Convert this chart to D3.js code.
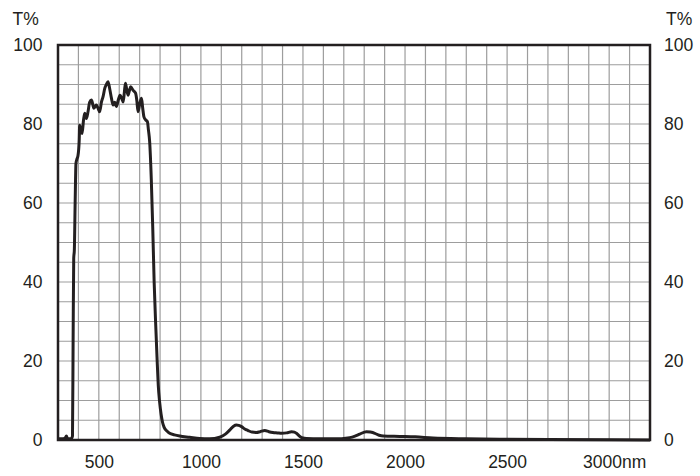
<!DOCTYPE html>
<html>
<head>
<meta charset="utf-8">
<script src="https://cdn.jsdelivr.net/npm/d3@7"></script>
<style>
  body { margin: 0; background: #fff; }
  text { font-family: "Liberation Sans", Arial, sans-serif; }
</style>
</head>
<body>
<svg id="main" width="700" height="476"></svg>
<script>
// wavelength (nm) and transmission (%)
const wavelength = [300,320,335,341,347,365,371,374,377,380,384,388,392,398,404,406,412,418,425,431,439,447,455,464,470,476,488,496,504,513,521,529,537,545,553,562,570,578,586,595,604,612,619,625,630,636,643,650,656,668,680,686,692,700,709,715,721,730,738,743,749,757,764,771,778,785,791,798,805,812,820,835,847,870,896,945,994,1043,1092,1120,1141,1160,1174,1185,1199,1215,1231,1250,1272,1290,1313,1333,1353,1375,1395,1420,1444,1458,1468,1485,1500,1517,1582,1650,1729,1760,1778,1811,1830,1852,1873,1893,1974,2050,2137,2300,2464,2700,3000,3200];
const transmission = [0.3,0.3,0.5,1.0,0.3,0.3,1,25,46,48,60,70,71,72,76,79.7,78.5,77.6,81,82.7,81.4,83.1,85.5,86.1,85,84,84.8,84,83.1,85.6,87,89,90,90.7,89,86.5,84.8,85.5,84.4,86,87.3,86.5,85.6,88,90.3,89,87.3,88.5,89.4,88.5,87.8,86,83.1,85,86.5,84,81.8,81,80.6,78.5,75.5,66,54,40,30,21,14,9.5,6.5,4.5,3.2,2.2,1.7,1.3,1,0.7,0.4,0.3,0.7,1.5,2.5,3.5,3.8,3.7,3.4,2.8,2.4,2.0,1.9,2.1,2.4,2.1,1.9,1.8,1.7,1.8,2.1,2.0,1.7,0.9,0.5,0.4,0.3,0.3,0.6,1.1,1.5,2.1,2.0,1.7,1.2,1.0,0.9,0.8,0.5,0.3,0.2,0.1,0.05,0];

const xTicks = [500,1000,1500,2000,2500,3000];
const xTickLabels = ["500","1000","1500","2000","2500","3000nm"];
const yTicks = [0,20,40,60,80,100];

function draw() {
    const svg = d3.select("#main");
    const left = 58, right = 650, top = 45, bottom = 440;

    const x = d3.scaleLinear().domain([300, 3200]).range([left, right]);
    const y = d3.scaleLinear().domain([0, 100]).range([bottom, top]);

    // grid
    svg.append('g').selectAll('line')
        .data(d3.range(400, 3200, 100))
        .join('line')
        .attr('x1', d => x(d)).attr('x2', d => x(d))
        .attr('y1', top).attr('y2', bottom)
        .attr('stroke', '#9d9d9d')
        .attr('stroke-width', 1.2);
    svg.append('g').selectAll('line')
        .data(d3.range(5, 100, 5))
        .join('line')
        .attr('x1', left).attr('x2', right)
        .attr('y1', d => y(d)).attr('y2', d => y(d))
        .attr('stroke', '#9d9d9d')
        .attr('stroke-width', 1.2);

    // frame
    svg.append('rect')
        .attr('x', left).attr('y', top)
        .attr('width', right - left).attr('height', bottom - top)
        .attr('fill', 'none')
        .attr('stroke', '#231f20')
        .attr('stroke-width', 2.5);

    // axes (labels only)
    const xAxis = svg.append('g')
        .attr('transform', `translate(0,${bottom})`)
        .call(d3.axisBottom(x).tickValues(xTicks).tickSize(0)
            .tickFormat((d, i) => xTickLabels[i]));
    xAxis.selectAll('text').attr('y', 28).attr('dy', 0)
        .attr('dx', (d, i) => i == xTicks.length - 1 ? 5 : 0);

    const yLeft = svg.append('g')
        .attr('transform', `translate(${left},0)`)
        .call(d3.axisLeft(y).tickValues(yTicks).tickSize(0).tickPadding(15.5));
    const yRight = svg.append('g')
        .attr('transform', `translate(${right},0)`)
        .call(d3.axisRight(y).tickValues(yTicks).tickSize(0).tickPadding(14));

    [xAxis, yLeft, yRight].forEach(g => {
        g.select('.domain').remove();
        g.selectAll('text')
            .attr('font-family', '"Liberation Sans", Arial, sans-serif')
            .attr('font-size', 17.5)
            .attr('fill', '#231f20');
    });

    // T% titles
    svg.append('text').attr('x', 12.5).attr('y', 25)
        .attr('font-size', 17.5).attr('fill', '#231f20').text('T%');
    svg.append('text').attr('x', 666).attr('y', 25)
        .attr('font-size', 17.5).attr('fill', '#231f20').text('T%');

    // curve
    const pts = wavelength.map((w, i) => [w, transmission[i]]);
    const line = d3.line()
        .x(d => x(d[0]))
        .y(d => y(d[1]))
        .curve(d3.curveMonotoneX);
    svg.append('path')
        .datum(pts)
        .attr('d', line)
        .attr('fill', 'none')
        .attr('stroke', '#231f20')
        .attr('stroke-width', 3)
        .attr('stroke-linejoin', 'round');
}

draw();
</script>
</body>
</html>
